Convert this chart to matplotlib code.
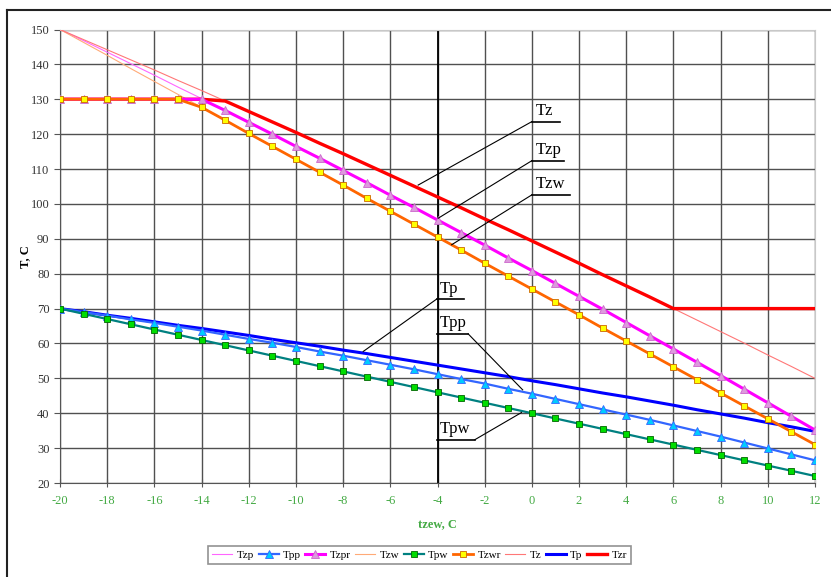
import numpy as np
import matplotlib
matplotlib.use("Agg")
import matplotlib.pyplot as plt
from matplotlib.lines import Line2D

plt.rcParams["font.family"] = ["Liberation Serif", "DejaVu Serif"]
plt.rcParams["axes.unicode_minus"] = False

# температура наружного воздуха
tzew = list(range(-20, 13))

Tzp = [150.0, 146.8, 143.5, 140.2, 136.9, 133.5, 130.2, 126.8, 123.4, 120.0, 116.5,
       113.1, 109.6, 106.1, 102.5, 99.0, 95.4, 91.8, 88.2, 84.5, 80.9, 77.2, 73.5,
       69.8, 66.0, 62.2, 58.4, 54.6, 50.8, 46.9, 43.0, 39.1, 35.2]
Tzpr = [130.0, 130.0, 130.0, 130.0, 130.0, 130.0, 130.0, 126.8, 123.4, 120.0, 116.5,
        113.1, 109.6, 106.1, 102.5, 99.0, 95.4, 91.8, 88.2, 84.5, 80.9, 77.2, 73.5,
        69.8, 66.0, 62.2, 58.4, 54.6, 50.8, 46.9, 43.0, 39.1, 35.2]
Tzw = [150.0, 146.3, 142.6, 138.8, 135.1, 131.4, 127.7, 124.0, 120.2, 116.5, 112.8,
       109.1, 105.4, 101.6, 97.9, 94.2, 90.5, 86.8, 83.0, 79.3, 75.6, 71.9, 68.2,
       64.4, 60.7, 57.0, 53.3, 49.6, 45.8, 42.1, 38.4, 34.7, 31.0]
Tzwr = [130.0, 130.0, 130.0, 130.0, 130.0, 130.0, 127.7, 124.0, 120.2, 116.5, 112.8,
        109.1, 105.4, 101.6, 97.9, 94.2, 90.5, 86.8, 83.0, 79.3, 75.6, 71.9, 68.2,
        64.4, 60.7, 57.0, 53.3, 49.6, 45.8, 42.1, 38.4, 34.7, 31.0]
Tz = [150.0, 147.1, 144.2, 141.3, 138.4, 135.4, 132.5, 129.5, 126.5, 123.5, 120.5,
      117.4, 114.4, 111.3, 108.2, 105.1, 102.0, 98.9, 95.7, 92.6, 89.4, 86.2, 83.0,
      79.7, 76.5, 73.3, 70.0, 66.7, 63.4, 60.1, 56.7, 53.4, 50.0]
Tzr = [130.0, 130.0, 130.0, 130.0, 130.0, 130.0, 130.0, 129.5, 126.5, 123.5, 120.5,
       117.4, 114.4, 111.3, 108.2, 105.1, 102.0, 98.9, 95.7, 92.6, 89.4, 86.2, 83.0,
       79.7, 76.5, 73.3, 70.0, 70.0, 70.0, 70.0, 70.0, 70.0, 70.0]
Tp = [70.0, 69.1, 68.1, 67.2, 66.2, 65.2, 64.3, 63.3, 62.3, 61.2, 60.2, 59.2, 58.1,
      57.1, 56.0, 54.9, 53.8, 52.7, 51.6, 50.5, 49.3, 48.2, 47.0, 45.8, 44.7, 43.5,
      42.3, 41.0, 39.8, 38.6, 37.3, 36.1, 34.8]
Tpp = [70.0, 69.0, 68.0, 66.9, 65.9, 64.8, 63.7, 62.5, 61.3, 60.2, 59.0, 57.7, 56.5,
       55.2, 53.9, 52.6, 51.2, 49.8, 48.5, 47.0, 45.6, 44.1, 42.6, 41.1, 39.6, 38.1,
       36.5, 34.9, 33.3, 31.6, 29.9, 28.2, 26.5]
Tpw = [70.0, 68.5, 67.0, 65.5, 64.0, 62.5, 61.0, 59.5, 58.0, 56.5, 55.0, 53.5, 52.0,
       50.5, 49.0, 47.5, 46.0, 44.5, 43.0, 41.5, 40.0, 38.5, 37.0, 35.5, 34.0, 32.5,
       31.0, 29.5, 28.0, 26.5, 25.0, 23.5, 22.0]

fig = plt.figure(figsize=(8.31, 5.77), dpi=100)
ax = fig.add_axes([60 / 831, 1 - 483 / 577, 755 / 831, 453.5 / 577])

# серии в порядке легенды
ax.plot(tzew, Tzp, color="#ff66ff", lw=0.8, label="Tzp", zorder=3)
ax.plot(tzew, Tpp, color="#3366ff", lw=1.6, marker="^", ms=5.5,
        mfc="#00ccff", mec="#3366ff", mew=0.6, label="Tpp", zorder=5)
ax.plot(tzew, Tzpr, color="#ff00ff", lw=2.2, marker="^", ms=6,
        mfc="#dd99dd", mec="#cc66cc", mew=0.6, label="Tzpr", zorder=5)
ax.plot(tzew, Tzw, color="#ffaa77", lw=0.8, label="Tzw", zorder=3)
ax.plot(tzew, Tpw, color="#008080", lw=1.6, marker="s", ms=5,
        mfc="#00dd00", mec="#006600", mew=0.6, label="Tpw", zorder=5)
ax.plot(tzew, Tzwr, color="#ff6600", lw=2.0, marker="s", ms=5,
        mfc="#ffff00", mec="#cc6600", mew=0.6, label="Tzwr", zorder=6)
ax.plot(tzew, Tz, color="#ff7777", lw=0.8, label="Tz", zorder=3)
ax.plot(tzew, Tp, color="#0000ff", lw=2.2, label="Tp", zorder=4)
ax.plot(tzew, Tzr, color="#ff0000", lw=2.4, label="Tzr", zorder=4)

ax.set_xlim(-20, 12)
ax.set_ylim(20, 150)
ax.set_xticks(range(-20, 13, 2))
ax.set_yticks(range(20, 151, 10))
ax.grid(True, color="#505050", lw=1.0)
ax.set_axisbelow(True)
ax.axvline(-4, color="black", lw=1.3, zorder=2)

for s in ["top", "right"]:
    ax.spines[s].set_color("#c8c8c8")
ax.spines["left"].set_color("#555555")
ax.spines["bottom"].set_color("#555555")
ax.tick_params(axis="y", direction="out", length=4, colors="#555555",
               labelcolor="#333333", labelsize=9)
ax.tick_params(axis="x", direction="inout", length=6, colors="#555555",
               labelcolor="#44aa44", labelsize=9, pad=6)

ax.set_ylabel("T, C", fontsize=9, fontweight="bold", labelpad=0)
ax.set_xlabel("tzew, C", fontsize=9, fontweight="bold", color="#44aa44", labelpad=8)

# подписи с выносками
labels = [
    ("Tz", 0.0, 1.19, 123.6, (0.0, 123.6), (-4.82, 105.4)),
    ("Tzp", 0.0, 1.36, 112.4, (0.0, 112.4), (-3.97, 95.9)),
    ("Tzw", 0.0, 1.61, 102.6, (0.0, 102.6), (-3.40, 88.3)),
    ("Tp", -4.04, -2.88, 72.7, (-4.04, 72.7), (-7.15, 57.7)),
    ("Tpp", -4.04, -2.70, 62.75, (-2.70, 62.75), (-0.39, 46.7)),
    ("Tpw", -4.04, -2.42, 32.4, (-2.42, 32.4), (-0.44, 40.2)),
]
for name, x0, x1, yu, p0, p1 in labels:
    ax.plot([x0, x1], [yu, yu], color="black", lw=1.2, zorder=7)
    ax.plot([p0[0], p1[0]], [p0[1], p1[1]], color="black", lw=0.8, zorder=7)
    ax.text(x0 + 0.15, yu + 0.7, name, fontsize=12, ha="left", va="bottom", zorder=7)

leg = fig.legend(loc="center", bbox_to_anchor=(0.505, 0.038), ncol=9,
                 fontsize=8, frameon=True, fancybox=False, edgecolor="#777777",
                 handlelength=1.8, handletextpad=0.4, columnspacing=0.4,
                 borderpad=0.4)
leg.get_frame().set_linewidth(1.2)

# рамка области диаграммы
fig.add_artist(Line2D([7 / 831, 7 / 831], [0, 1 - 10 / 577], color="#222222", lw=1.5))
fig.add_artist(Line2D([7 / 831, 1], [1 - 10 / 577, 1 - 10 / 577], color="#222222", lw=1.5))

fig.savefig("out.png", dpi=100)
